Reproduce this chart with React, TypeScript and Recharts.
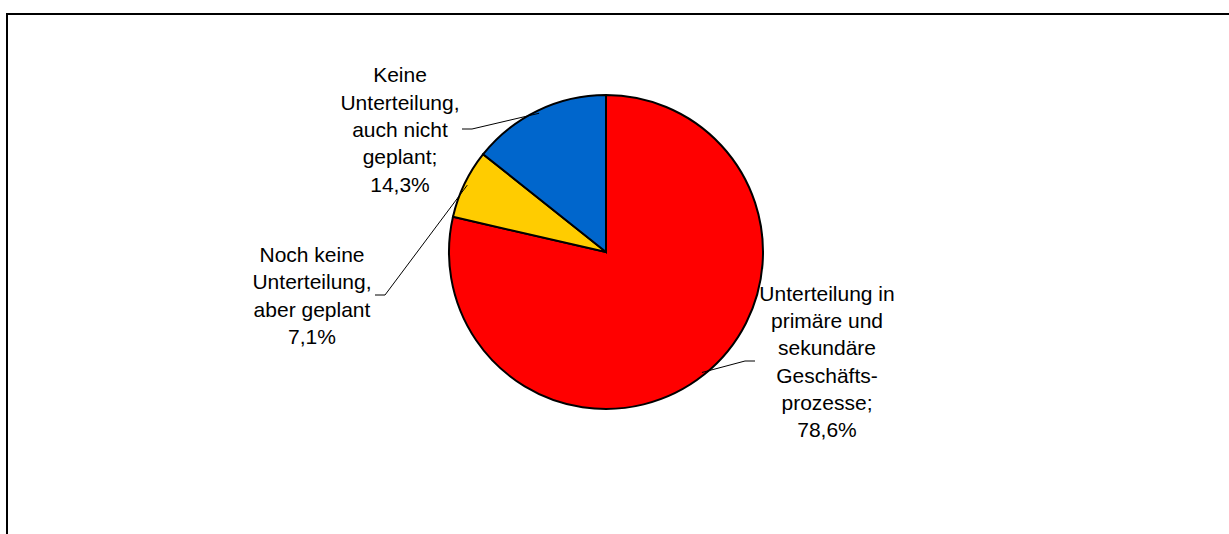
import React from "react";
import { PieChart, Pie, Cell } from "recharts";

// Anteile in Prozent, im Uhrzeigersinn ab 12 Uhr
const categories = [
  "Unterteilung in primäre und sekundäre Geschäftsprozesse",
  "Noch keine Unterteilung, aber geplant",
  "Keine Unterteilung, auch nicht geplant",
];
const shares = [78.6, 7.1, 14.3];
const labelLines = [
  ["Unterteilung in", "primäre und", "sekundäre", "Geschäfts-", "prozesse;"],
  ["Noch keine", "Unterteilung,", "aber geplant"],
  ["Keine", "Unterteilung,", "auch nicht", "geplant;"],
];
const colors = ["#FF0000", "#FFCC00", "#0066CC"];

// elbow of leader line relative to pie centre, text centre offset
const labelLayout = [
  { ex: 139, ey: 109, side: 1, tx: 221 },
  { ex: -221, ey: 43, side: -1, tx: -294 },
  { ex: -134, ey: -123, side: -1, tx: -206 },
];

const data = categories.map((name, i) => ({ name, value: shares[i] }));

const FONT = "'Liberation Sans', Arial, sans-serif";
const LINE_H = 27.3;
const RADIAN = Math.PI / 180;

const fmt = (v: number) => `${v.toFixed(1).replace(".", ",")}%`;

function renderLabel(props: any) {
  const { cx, cy, midAngle, outerRadius, index, value } = props;
  const lay = labelLayout[index];
  const sx = cx + (outerRadius - 3) * Math.cos(-midAngle * RADIAN);
  const sy = cy + (outerRadius - 3) * Math.sin(-midAngle * RADIAN);
  const ex = cx + lay.ex;
  const ey = cy + lay.ey;
  const hx = ex + lay.side * 10;
  const lines = [...labelLines[index], fmt(value)];
  const n = lines.length;
  const tx = cx + lay.tx;
  return (
    <g key={`lbl-${index}`}>
      <polyline
        points={`${sx},${sy} ${ex},${ey} ${hx},${ey}`}
        fill="none"
        stroke="#000"
        strokeWidth={1}
      />
      <text x={tx} textAnchor="middle" fontFamily={FONT} fontSize={21} fill="#000">
        {lines.map((l, i) => (
          <tspan key={i} x={tx} y={ey + (i - (n - 1) / 2) * LINE_H + 8}>
            {l}
          </tspan>
        ))}
      </text>
    </g>
  );
}

export default function App() {
  return (
    <div style={{ position: "absolute", left: 0, top: 0, width: 1229, height: 534, background: "#fff", overflow: "hidden" }}>
      <div
        style={{
          position: "absolute",
          left: 6,
          top: 13,
          width: 1240,
          height: 540,
          borderTop: "2px solid #000",
          borderLeft: "2px solid #000",
        }}
      />
      <div style={{ position: "absolute", left: 0, top: 0 }}>
        <PieChart width={1229} height={534} margin={{ top: 0, right: 0, bottom: 0, left: 0 }}>
          <Pie
            data={data}
            dataKey="value"
            nameKey="name"
            cx={606}
            cy={252}
            outerRadius={157}
            startAngle={90}
            endAngle={-270}
            stroke="#000"
            strokeWidth={2}
            label={renderLabel}
            labelLine={false}
            isAnimationActive={false}
          >
            {data.map((d, i) => (
              <Cell key={d.name} fill={colors[i]} />
            ))}
          </Pie>
        </PieChart>
      </div>
    </div>
  );
}
